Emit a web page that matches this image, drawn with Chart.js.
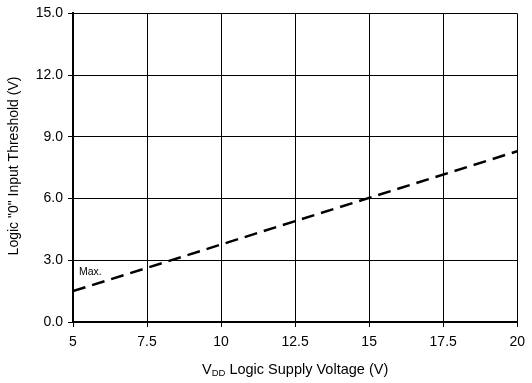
<!DOCTYPE html>
<html>
<head>
<meta charset="utf-8">
<script src="https://cdn.jsdelivr.net/npm/chart.js@4"></script>
<style>
  html, body { margin: 0; padding: 0; background: #fff; }
  #wrap { width: 532px; height: 383px; }
</style>
</head>
<body>
<div id="wrap"><canvas id="chart"></canvas></div>
<script>
// data
const supplyVoltage = [5, 20];
const thresholdMax = [1.5, 8.3];
const xTicks = [5, 7.5, 10, 12.5, 15, 17.5, 20];
const yTicks = [0, 3, 6, 9, 12, 15];
const curveLabel = "Max.";
const curveLabelAt = { x: 5.2, y: 2.42 };

const FONT = "'Liberation Sans', Arial, sans-serif";

// titles + curve label (x title needs a subscript)
const textPlugin = {
  id: "texts",
  afterDraw(chart) {
    const ctx = chart.ctx;
    const area = chart.chartArea;
    const sx = chart.scales.x, sy = chart.scales.y;
    ctx.save();
    ctx.fillStyle = "#000";

    // curve label
    ctx.font = "10.5px " + FONT;
    ctx.textAlign = "left";
    ctx.textBaseline = "middle";
    ctx.fillText(curveLabel, sx.getPixelForValue(curveLabelAt.x), sy.getPixelForValue(curveLabelAt.y));

    // y title
    ctx.font = "14px " + FONT;
    ctx.translate(14, 166);
    ctx.rotate(-Math.PI / 2);
    ctx.textAlign = "center";
    ctx.textBaseline = "middle";
    ctx.fillText('Logic "0" Input Threshold (V)', 0, 0);
    ctx.setTransform(1, 0, 0, 1, 0, 0);

    // x title with subscript
    const big = "14.5px " + FONT, small = "9.5px " + FONT;
    const p1 = "V", p2 = "DD", p3 = " Logic Supply Voltage (V)";
    ctx.font = big; const w1 = ctx.measureText(p1).width, w3 = ctx.measureText(p3).width;
    ctx.font = small; const w2 = ctx.measureText(p2).width;
    let x = (area.left + area.right) / 2 - (w1 + w2 + w3) / 2;
    const y = 373.5;
    ctx.textAlign = "left";
    ctx.textBaseline = "alphabetic";
    ctx.font = big; ctx.fillText(p1, x, y); x += w1;
    ctx.font = small; ctx.fillText(p2, x, y + 2.5); x += w2;
    ctx.font = big; ctx.fillText(p3, x, y);
    ctx.restore();
  }
};

new Chart(document.getElementById("chart"), {
  type: "line",
  data: {
    datasets: [{
      label: curveLabel,
      data: supplyVoltage.map((v, i) => ({ x: v, y: thresholdMax[i] })),
      borderColor: "#000",
      borderWidth: 2.5,
      borderDash: [13, 7],
      pointRadius: 0,
      fill: false,
      tension: 0
    }]
  },
  options: {
    responsive: true,
    maintainAspectRatio: false,
    animation: false,
    devicePixelRatio: 1,
    layout: { padding: { top: 12, right: 11, left: 0, bottom: 0 } },
    plugins: {
      legend: { display: false },
      tooltip: { enabled: false }
    },
    scales: {
      x: {
        type: "linear",
        min: 5,
        max: 20,
        afterBuildTicks: s => { s.ticks = xTicks.map(v => ({ value: v })); },
        afterFit: s => { s.height = 61; },
        grid: { color: "#000", lineWidth: 1, tickLength: 5 },
        border: { color: "#000", width: 2 },
        ticks: {
          color: "#000",
          font: { family: FONT, size: 14 },
          padding: 7,
          maxRotation: 0,
          callback: v => String(v)
        }
      },
      y: {
        type: "linear",
        min: 0,
        max: 15,
        afterBuildTicks: s => { s.ticks = yTicks.map(v => ({ value: v })); },
        afterFit: s => { s.width = 73; },
        grid: { color: "#000", lineWidth: 1, tickLength: 5 },
        border: { color: "#000", width: 2 },
        ticks: {
          color: "#000",
          font: { family: FONT, size: 14 },
          padding: 5,
          callback: v => Number(v).toFixed(1)
        }
      }
    }
  },
  plugins: [textPlugin]
});
</script>
</body>
</html>
